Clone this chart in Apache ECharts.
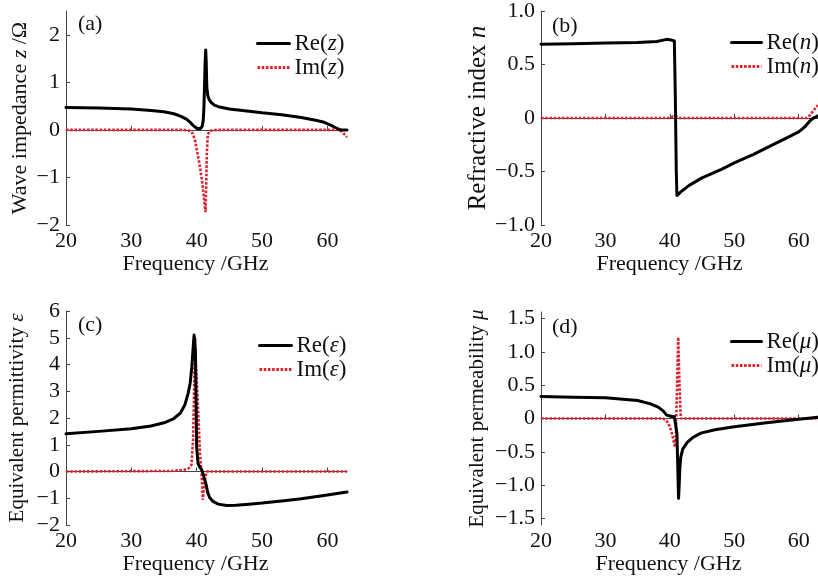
<!DOCTYPE html>
<html>
<head>
<meta charset="utf-8">
<script src="https://cdn.jsdelivr.net/npm/echarts@6/dist/echarts.min.js"></script>
<style>
html,body{margin:0;padding:0;background:#fff;}
#c{width:818px;height:577px;}
</style>
</head>
<body>
<div id="c"></div>
<script>
// ---------- data ----------
const xTicks = [20, 30, 40, 50, 60];
const yTicksA = [-2, -1, 0, 1, 2];
const yTicksB = [-1, -0.5, 0, 0.5, 1];
const yTicksC = [-2, -1, 0, 1, 2, 3, 4, 5, 6];
const yTicksD = [-1.5, -1, -0.5, 0, 0.5, 1, 1.5];

// (a) wave impedance z
const reZF = [20,25,30,33,35,36.5,37.5,38.5,39,39.4,39.7,40,40.3,40.6,40.85,41.0,41.1,41.2,41.3,41.38,41.45,41.55,41.7,41.9,42.2,42.7,43.5,45,47,50,53,56,58,59.5,60.5,61.2,61.8,62.2,63];
const reZV = [0.47,0.46,0.44,0.41,0.38,0.34,0.29,0.22,0.16,0.1,0.06,0.03,0.02,0.03,0.08,0.2,0.45,0.95,1.45,1.68,1.45,0.9,0.72,0.64,0.58,0.52,0.48,0.44,0.41,0.36,0.32,0.26,0.21,0.16,0.1,0.05,0.01,0.0,0.0];
const imZF = [20,38,39,39.4,39.8,40.2,40.5,40.8,41.0,41.2,41.35,41.45,41.55,41.7,42,43,61.8,62.2,62.6,63];
const imZV = [0,0,-0.02,-0.08,-0.25,-0.55,-0.78,-1.05,-1.3,-1.55,-1.73,-1.2,-0.5,-0.1,-0.02,0,0,-0.04,-0.09,-0.15];

// (b) refractive index n
const reNF = [20,25,30,35,38,39.5,40.2,40.7,40.85,41.0,41.1,41.7,43,45,48,50,53,55,58,60,61,61.7,62.3,63];
const reNV = [0.69,0.695,0.7,0.705,0.715,0.735,0.73,0.72,0.2,-0.5,-0.725,-0.69,-0.63,-0.56,-0.48,-0.42,-0.34,-0.28,-0.19,-0.13,-0.08,-0.03,0.0,0.02];
const imNF = [20,40,40.5,40.8,41.1,41.5,61.3,61.8,62.3,63];
const imNV = [0,0,0.015,0.02,0.01,0,0,0.03,0.07,0.12];

// (c) permittivity epsilon
const reEF = [20,25,30,33,35,36.5,37.5,38.2,38.7,39.0,39.25,39.45,39.6,39.7,39.8,39.9,40.0,40.2,40.5,40.8,41.1,41.4,41.7,42.0,42.5,43.3,44.6,46,48,50,53,56,60,63];
const reEV = [1.41,1.5,1.6,1.7,1.82,1.98,2.18,2.5,2.93,3.3,3.9,4.6,5.1,5.17,4.5,2.7,0.9,0.3,0.15,0.05,-0.2,-0.45,-0.8,-0.98,-1.12,-1.22,-1.27,-1.26,-1.22,-1.18,-1.1,-1.02,-0.88,-0.77];
const imEF = [20,36,38,38.8,39.2,39.45,39.6,39.75,39.9,40.26,40.5,40.77,40.93,41.1,41.3,41.5,63];
const imEV = [0,0.02,0.06,0.12,0.25,1.2,3.0,5.0,3.93,2.06,0.69,-0.19,-1.06,-0.7,-0.25,0,0];

// (d) permeability mu
const reMF = [20,25,30,35,37,38.2,39,39.5,39.8,40.3,40.7,40.95,41.1,41.2,41.3,41.36,41.45,41.55,41.7,42,42.7,43.5,44.8,47,50,55,60,63];
const reMV = [0.33,0.32,0.31,0.27,0.22,0.17,0.11,0.05,0.03,0.03,0.03,0.0,-0.22,-0.6,-1.0,-1.2,-1.0,-0.75,-0.58,-0.46,-0.36,-0.29,-0.22,-0.17,-0.125,-0.065,-0.01,0.02];
const imMF = [20,38.8,39.4,39.8,40.2,40.5,40.8,40.95,41.1,41.3,41.5,41.7,42,63];
const imMV = [0,0,-0.02,-0.08,-0.18,-0.3,-0.43,-0.2,0.4,1.22,0.5,0,0,0];

// ---------- styling ----------
const FONT = 'Liberation Serif';
const FS = 22;
const TXT = '#111';
const AX = '#444';
const RED = '#dc2430';
const mkRich = fs => ({
  n: {fontFamily: FONT, fontSize: fs, color: TXT},
  i: {fontFamily: FONT, fontSize: fs, color: TXT, fontStyle: 'italic'}
});
const pair = (f, v) => f.map((x, k) => [x, v[k]]);
const minus = s => String(s).replace('-', '\u2212');
const fmtInt = v => minus(v);
const fmtDec = v => v === 0 ? '0' : minus(v.toFixed(1));

const grids = [
  {left: 66, top: 11, width: 281, height: 214},
  {left: 541, top: 11, width: 282, height: 214},
  {left: 66, top: 311, width: 281, height: 214},
  {left: 541, top: 312, width: 282, height: 213}
];

function xAxis(idx) {
  return {
    type: 'value', gridIndex: idx, min: 20, max: 63,
    name: 'Frequency /GHz', nameLocation: 'middle',
    nameGap: idx === 1 ? 19 : 26,
    nameTextStyle: {fontFamily: FONT, fontSize: FS, color: TXT, padding: idx === 1 ? [0, 20, 0, 0] : [0, 22, 0, 0]},
    axisLine: {show: true, lineStyle: {color: AX, width: 1}},
    axisTick: {show: true, inside: true, length: 4, customValues: xTicks, lineStyle: {color: AX}},
    axisLabel: {customValues: xTicks, margin: 5, fontFamily: FONT, fontSize: FS, color: TXT},
    splitLine: {show: false}
  };
}
function yAxis(idx, min, max, ticks, fmt, nameRich, gap, nfs) {
  return {
    type: 'value', gridIndex: idx, min: min, max: max,
    name: nameRich, nameLocation: 'middle', nameGap: gap,
    nameTextStyle: {rich: mkRich(nfs), fontFamily: FONT, fontSize: nfs, color: TXT},
    axisLine: {show: true, lineStyle: {color: AX, width: 1}},
    axisTick: {show: true, inside: true, length: 4, customValues: ticks, lineStyle: {color: AX}},
    axisLabel: {customValues: ticks, formatter: fmt, margin: 6, fontFamily: FONT, fontSize: FS, color: TXT},
    splitLine: {show: false}
  };
}
function reSeries(name, idx, f, v) {
  return {name: name, type: 'line', xAxisIndex: idx, yAxisIndex: idx, data: pair(f, v),
    symbol: 'none', smooth: false, z: 3,
    lineStyle: {color: '#000', width: 3, join: 'round', cap: 'round'}, itemStyle: {color: '#000'}};
}
function imSeries(name, idx, f, v) {
  return {name: name, type: 'line', xAxisIndex: idx, yAxisIndex: idx, data: pair(f, v),
    symbol: 'none', smooth: false, z: 2,
    lineStyle: {color: RED, width: 2.6, type: [2.6, 1.6]}, itemStyle: {color: RED}};
}
const legFmt = name => {
  const m = name.match(/^(\w+)\((.)\)$/);
  return '{n|' + m[1] + '(}{i|' + m[2] + '}{n|)}';
};
function legend(names, left, top, w) {
  return {data: names, orient: 'vertical', left: left, top: top,
    itemWidth: w, itemHeight: 12, itemGap: 1, padding: 0,
    formatter: legFmt, selectedMode: false,
    itemStyle: {opacity: 0},
    lineStyle: {width: 3},
    textStyle: {rich: mkRich(23), fontFamily: FONT, fontSize: 23, color: TXT, lineHeight: 22}};
}
function panelLabel(t, x, y) {
  return {type: 'text', left: x, top: y, style: {text: t, font: FS + 'px ' + FONT, fill: TXT}};
}

const option = {
  backgroundColor: '#fff',
  animation: false,
  grid: grids,
  xAxis: [xAxis(0), xAxis(1), xAxis(2), xAxis(3)],
  yAxis: [
    yAxis(0, -2, 2.5, yTicksA, fmtInt, '{n|Wave impedance }{i|z}{n| /Ω}', 35, 22),
    yAxis(1, -1, 1, yTicksB, fmtDec, '{n|Refractive index }{i|n}', 48, 25),
    yAxis(2, -2, 6, yTicksC, fmtInt, '{n|Equivalent permittivity }{i|ε}', 38, 21),
    yAxis(3, -1.6, 1.6, yTicksD, fmtDec, '{n|Equivalent permeability }{i|μ}', 53, 21)
  ],
  legend: [
    legend(['Re(z)', 'Im(z)'], 256, 32, 32),
    legend(['Re(n)', 'Im(n)'], 730, 31, 30),
    legend(['Re(ε)', 'Im(ε)'], 258, 334, 32),
    legend(['Re(μ)', 'Im(μ)'], 730, 330, 30)
  ],
  graphic: [
    panelLabel('(a)', 78, 13),
    panelLabel('(b)', 552, 15),
    panelLabel('(c)', 78, 314),
    panelLabel('(d)', 552, 316)
  ],
  series: [
    reSeries('Re(z)', 0, reZF, reZV), imSeries('Im(z)', 0, imZF, imZV),
    reSeries('Re(n)', 1, reNF, reNV), imSeries('Im(n)', 1, imNF, imNV),
    reSeries('Re(ε)', 2, reEF, reEV), imSeries('Im(ε)', 2, imEF, imEV),
    reSeries('Re(μ)', 3, reMF, reMV), imSeries('Im(μ)', 3, imMF, imMV)
  ]
};
const chart = echarts.init(document.getElementById('c'), null, {renderer: 'canvas'});
chart.setOption(option);
</script>
</body>
</html>
